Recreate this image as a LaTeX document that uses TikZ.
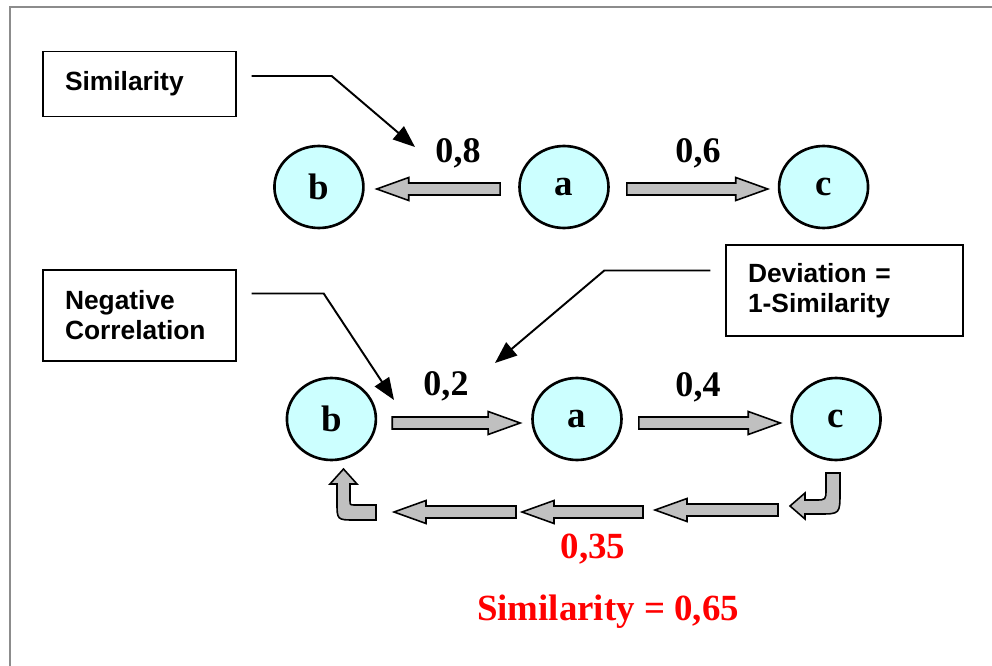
\documentclass[tikz,border=0pt]{standalone}
\usepackage{fontspec}
\setmainfont{Liberation Serif}
\setsansfont{Liberation Sans}
\usepackage{tikz}
\usetikzlibrary{positioning}
\usetikzlibrary{calc}
\usetikzlibrary{arrows.meta}
\usetikzlibrary{shapes,shapes.geometric}
\definecolor{itemcyan}{HTML}{CCFFFF}
\definecolor{arrowgray}{HTML}{C0C0C0}
\definecolor{framegray}{HTML}{8C8C8C}
\tikzstyle{item} = [draw, ellipse, line width=1.5pt, fill=itemcyan, minimum width=1.78cm, minimum height=1.64cm, inner sep=0pt, font=\bfseries\fontsize{21}{24}\selectfont]
\tikzstyle{note} = [draw, rectangle, line width=0.8pt, align=left, inner xsep=0.44cm, font=\sffamily\bfseries\fontsize{15}{17}\selectfont]
\tikzstyle{weight} = [anchor=base, font=\bfseries\fontsize{20.5}{23}\selectfont]
\tikzstyle{result} = [anchor=base, text=red, font=\bfseries\fontsize{21}{24}\selectfont]
\tikzstyle{blockarrow} = [draw, fill=arrowgray, line width=0.9pt, line join=miter]
\tikzstyle{callout} = [-{Triangle[length=0.44cm, width=0.34cm]}, line width=1.1pt]
% gray block arrow from #1 to #2
\newcommand{\blockarr}[2]{%
  \coordinate (ba-s) at (#1);
  \coordinate (ba-e) at (#2);
  \coordinate (ba-h) at ($(ba-e)!0.64cm!(ba-s)$);
  \draw[blockarrow] ($(ba-s)!0.12cm!90:(ba-e)$) -- ($(ba-h)!0.12cm!90:(ba-e)$)
    -- ($(ba-h)!0.23cm!90:(ba-e)$) -- (ba-e) -- ($(ba-h)!0.23cm!-90:(ba-e)$)
    -- ($(ba-h)!0.12cm!-90:(ba-e)$) -- ($(ba-s)!0.12cm!-90:(ba-e)$) -- cycle;
}

\begin{document}
\begin{tikzpicture}[x=0.02cm, y=-0.02cm]
    \useasboundingbox (0,0) rectangle (992,666);
    \draw[framegray, line width=0.6pt] (10,666) -- (10,7) -- (992,7);

    % upper row
    \node [item] (a1) at (564,187) {a};
    \node [item, left=3.07cm of a1] (b1) {b};
    \node [item, right=3.36cm of a1] (c1) {c};
    \blockarr{$(a1.west)+(-18,2)$}{$(b1.east)+(12,2)$}
    \blockarr{$(a1.east)+(17,2)$}{$(c1.west)+(-10,2)$}
    \node [weight] (w1) at (458,162) {0,8};
    \node [weight] (w2) at (698,162) {0,6};

    % lower row
    \node [item] (a2) at (577,419) {a};
    \node [item, left=3.08cm of a2] (b2) {b};
    \node [item, right=3.35cm of a2] (c2) {c};
    \blockarr{$(b2.east)+(15,4)$}{$(a2.west)+(-11,4)$}
    \blockarr{$(a2.east)+(16,4)$}{$(c2.west)+(-10,4)$}
    \node [weight] (w3) at (446,395) {0,2};
    \node [weight] (w4) at (698,396) {0,4};

    % way back from c to b
    \draw[blockarrow] (826,473) -- (840,473) -- (840,492) .. controls (840,514) .. (819,514)
        -- (805,514) -- (805,519) -- (790,506) -- (805,493) -- (805,500) -- (815,500)
        .. controls (826,500) .. (826,489) -- cycle;
    \coordinate (r1) at (778,510);
    \coordinate (r2) at (655,510);
    \coordinate (r3) at (643,512);
    \coordinate (r4) at (522,512);
    \coordinate (r5) at (516,512);
    \coordinate (r6) at (394,512);
    \blockarr{r1}{r2}
    \blockarr{r3}{r4}
    \blockarr{r5}{r6}
    \draw[blockarrow] (376,505) -- (376,520) -- (355,520) .. controls (337,520) .. (337,502)
        -- (337,484) -- (330,484) -- (343.5,469) -- (357,484) -- (350,484) -- (350,500)
        .. controls (350,505) .. (355,505) -- cycle;
    \node [result] (dev) at (593,558) {0,35};
    \node [result] (sim) at (608,620) {Similarity = 0,65};

    % notes
    \node [note, minimum width=3.86cm, minimum height=1.3cm, text width=2.98cm] (simbox) at (139.5,84) {Similarity};
    \node [note, minimum width=3.86cm, minimum height=1.82cm, text width=2.98cm] (negbox) at (139.5,315.5) {Negative\\Correlation};
    \node [note, minimum width=4.74cm, minimum height=1.82cm, text width=3.86cm] (devbox) at (844.5,290.5) {Deviation =\\1-Similarity};
    \coordinate (simtip) at (415,147);
    \coordinate (negtip) at (394,400);
    \coordinate (devtip) at (495,363);
    \draw[callout] ($(simbox.east)+(15,-8)$) -- ++(80,0) -- (simtip);
    \draw[callout] ($(negbox.east)+(15,-22)$) -- ++(72,0) -- (negtip);
    \draw[callout] ($(devbox.west)+(-15,-20)$) -- ++(-106,0) -- (devtip);
\end{tikzpicture}
\end{document}
